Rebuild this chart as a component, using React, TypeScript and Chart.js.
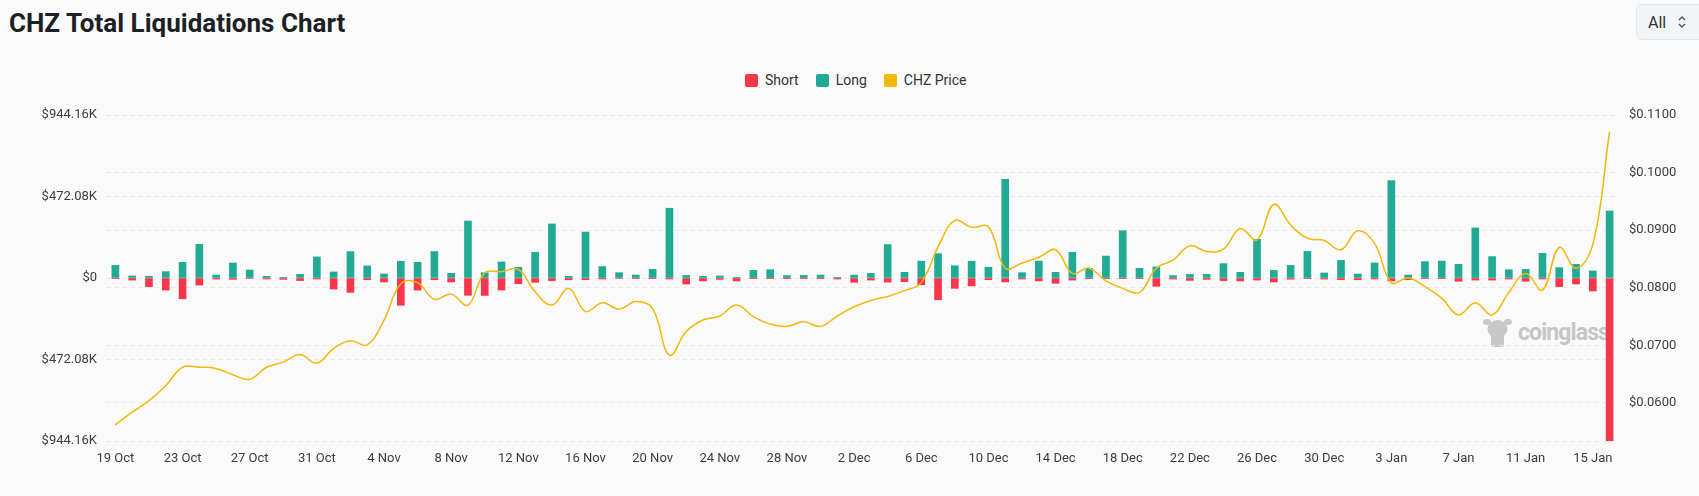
import React, { useEffect, useRef } from 'react';
import { Chart, registerables } from 'chart.js';
Chart.register(...registerables);

const dates = [
  '19 Oct','20 Oct','21 Oct','22 Oct','23 Oct','24 Oct','25 Oct','26 Oct','27 Oct','28 Oct','29 Oct','30 Oct','31 Oct',
  '1 Nov','2 Nov','3 Nov','4 Nov','5 Nov','6 Nov','7 Nov','8 Nov','9 Nov','10 Nov','11 Nov','12 Nov','13 Nov','14 Nov','15 Nov',
  '16 Nov','17 Nov','18 Nov','19 Nov','20 Nov','21 Nov','22 Nov','23 Nov','24 Nov','25 Nov','26 Nov','27 Nov','28 Nov','29 Nov','30 Nov',
  '1 Dec','2 Dec','3 Dec','4 Dec','5 Dec','6 Dec','7 Dec','8 Dec','9 Dec','10 Dec','11 Dec','12 Dec','13 Dec','14 Dec','15 Dec',
  '16 Dec','17 Dec','18 Dec','19 Dec','20 Dec','21 Dec','22 Dec','23 Dec','24 Dec','25 Dec','26 Dec','27 Dec','28 Dec','29 Dec','30 Dec','31 Dec',
  '1 Jan','2 Jan','3 Jan','4 Jan','5 Jan','6 Jan','7 Jan','8 Jan','9 Jan','10 Jan','11 Jan','12 Jan','13 Jan','14 Jan','15 Jan','16 Jan',
];

// Long liquidations, thousands of USD
const longLiqK = [
  73, 12, 10, 37, 91, 195, 17, 87, 46, 10, 4, 21, 122,
  35, 153, 70, 23, 97, 91, 153, 27, 330, 30, 93, 62, 149, 313, 10,
  266, 66, 31, 17, 50, 404, 15, 10, 12, 4, 44, 48, 14, 15, 17,
  4, 17, 27, 194, 33, 97, 141, 71, 97, 62, 572, 31, 98, 33, 149,
  56, 127, 274, 56, 64, 14, 21, 21, 83, 33, 224, 44, 73, 154, 29, 102,
  23, 87, 564, 17, 95, 98, 79, 290, 124, 48, 50, 143, 60, 79, 41, 388,
];

// Short liquidations, thousands of USD (drawn below zero)
const shortLiqK = [
  2, 12, 50, 70, 120, 41, 6, 8, 3, 6, 8, 15, 6,
  64, 83, 10, 23, 158, 70, 10, 23, 100, 101, 70, 33, 25, 15, 10,
  10, 6, 3, 4, 4, 6, 35, 17, 8, 17, 1, 1, 1, 1, 1,
  6, 25, 12, 24, 21, 39, 126, 60, 46, 10, 23, 6, 17, 31, 12,
  4, 4, 4, 4, 48, 6, 14, 8, 15, 17, 12, 23, 7, 2, 6, 10,
  10, 6, 17, 10, 2, 2, 19, 12, 12, 6, 19, 6, 50, 35, 75, 944.16,
];

// CHZ price, USD
const chzPrice = [
  0.0562, 0.0584, 0.0604, 0.0630, 0.0662, 0.0662, 0.0660, 0.0649, 0.0641, 0.0662, 0.0671, 0.0684, 0.0669,
  0.0695, 0.0708, 0.0701, 0.0744, 0.0807, 0.0809, 0.0780, 0.0789, 0.0770, 0.0826, 0.0828, 0.0832, 0.0793, 0.0770, 0.0799,
  0.0759, 0.0774, 0.0763, 0.0776, 0.0764, 0.0683, 0.0724, 0.0744, 0.0751, 0.0770, 0.0750, 0.0737, 0.0733, 0.0741, 0.0733,
  0.0751, 0.0767, 0.0778, 0.0785, 0.0795, 0.0809, 0.0871, 0.0917, 0.0905, 0.0906, 0.0834, 0.0843, 0.0853, 0.0866, 0.0825,
  0.0834, 0.0812, 0.0799, 0.0792, 0.0834, 0.0848, 0.0873, 0.0863, 0.0867, 0.0903, 0.0883, 0.0945, 0.0909, 0.0886, 0.0882, 0.0866,
  0.0899, 0.0877, 0.0809, 0.0817, 0.0802, 0.0782, 0.0753, 0.0774, 0.0753, 0.0792, 0.0825, 0.0796, 0.0870, 0.0834, 0.0875, 0.1071,
];

const leftTicks = [-944160, -472080, 0, 472080, 944160];
const rightTicks = [0.06, 0.07, 0.08, 0.09, 0.1, 0.11];

const RED = '#f6364a';
const GREEN = '#22ab94';
const YELLOW = '#f0b90b';
const TICK_COLOR = '#3d3d3d';
const GRID = '#e8e8e8';

export default function App() {
  const ref = useRef<HTMLCanvasElement>(null);

  useEffect(() => {
    const chart = new Chart(ref.current as HTMLCanvasElement, {
      type: 'bar',
      data: {
        labels: dates,
        datasets: [
          {
            type: 'line',
            label: 'CHZ Price',
            data: chzPrice,
            yAxisID: 'y1',
            borderColor: YELLOW,
            borderWidth: 1.5,
            pointRadius: 0,
            tension: 0.4,
            fill: false,
            order: 0,
          } as any,
          {
            type: 'bar',
            label: 'Short',
            data: shortLiqK.map((v) => -v * 1000),
            backgroundColor: RED,
            stack: 'liq',
            yAxisID: 'y',
            order: 1,
            barThickness: 7,
          },
          {
            type: 'bar',
            label: 'Long',
            data: longLiqK.map((v) => v * 1000),
            backgroundColor: GREEN,
            stack: 'liq',
            yAxisID: 'y',
            order: 1,
            barThickness: 7,
          },
        ],
      },
      options: {
        responsive: false,
        animation: false,
        devicePixelRatio: 1,
        layout: { padding: { top: 115, left: 0, right: 0, bottom: 0 } },
        plugins: {
          legend: { display: false },
          tooltip: { enabled: false },
        },
        scales: {
          x: {
            stacked: true,
            grid: { display: false, drawTicks: false },
            border: { display: false },
            ticks: {
              autoSkip: false,
              maxRotation: 0,
              minRotation: 0,
              padding: 10,
              color: TICK_COLOR,
              font: { family: 'Roboto', size: 13 },
              callback: (_v: any, i: number) => (i % 4 === 0 ? dates[i] : ''),
            },
            afterFit: (s: any) => {
              s.height = 55;
            },
          },
          y: {
            position: 'left',
            stacked: true,
            min: -944160,
            max: 944160,
            afterBuildTicks: (s: any) => {
              s.ticks = leftTicks.map((v) => ({ value: v }));
            },
            afterFit: (s: any) => {
              s.width = 107;
            },
            grid: { color: GRID, drawTicks: false, lineWidth: 1 },
            border: { display: false, dash: [4, 4] },
            ticks: {
              padding: 10,
              color: TICK_COLOR,
              font: { family: 'Roboto', size: 13 },
              callback: (v: any) => (v === 0 ? '$0' : '$' + (Math.abs(v) / 1000).toFixed(2) + 'K'),
            },
          },
          y1: {
            position: 'right',
            min: 0.0534,
            max: 0.11,
            afterBuildTicks: (s: any) => {
              s.ticks = rightTicks.map((v) => ({ value: v }));
            },
            afterFit: (s: any) => {
              s.width = 81;
            },
            grid: { color: GRID, drawTicks: false, lineWidth: 1 },
            border: { display: false, dash: [4, 4] },
            ticks: {
              padding: 11,
              color: TICK_COLOR,
              font: { family: 'Roboto', size: 13 },
              callback: (v: any) => '$' + Number(v).toFixed(4),
            },
          },
        },
      },
    });
    return () => chart.destroy();
  }, []);

  const legendItem = (color: string, text: string) => (
    <div style={{ display: 'flex', alignItems: 'center', marginRight: 17 }}>
      <span style={{ width: 13, height: 13, borderRadius: 2, background: color, display: 'inline-block', marginRight: 7 }} />
      <span style={{ fontSize: 14, color: '#333', lineHeight: '14px' }}>{text}</span>
    </div>
  );

  return (
    <div
      style={{
        position: 'fixed',
        left: 0,
        top: 0,
        width: 1699,
        height: 496,
        overflow: 'hidden',
        background: '#fafafa',
        fontFamily: 'Roboto, sans-serif',
      }}
    >
      <div
        style={{
          position: 'absolute',
          left: 9,
          top: 8,
          fontSize: 26,
          fontWeight: 700,
          color: '#1c1f24',
          lineHeight: '30px',
          whiteSpace: 'nowrap',
        }}
      >
        CHZ Total Liquidations Chart
      </div>

      <div
        style={{
          position: 'absolute',
          left: 1636,
          top: 4,
          width: 80,
          height: 36,
          boxSizing: 'border-box',
          border: '1px solid #e2e6ea',
          borderRadius: 6,
          background: '#f2f5f7',
          display: 'flex',
          alignItems: 'center',
          paddingLeft: 11,
          fontSize: 16,
          color: '#333',
        }}
      >
        <span>All</span>
        <svg width="10" height="16" viewBox="0 0 10 16" style={{ marginLeft: 11 }}>
          <path d="M2 6 L5 3 L8 6" stroke="#555" strokeWidth="1.4" fill="none" />
          <path d="M2 10 L5 13 L8 10" stroke="#555" strokeWidth="1.4" fill="none" />
        </svg>
      </div>

      <div
        style={{
          position: 'absolute',
          left: 745,
          top: 73,
          display: 'flex',
          alignItems: 'center',
          whiteSpace: 'nowrap',
        }}
      >
        {legendItem(RED, 'Short')}
        {legendItem(GREEN, 'Long')}
        {legendItem(YELLOW, 'CHZ Price')}
      </div>

      <div style={{ position: 'absolute', left: 1483, top: 317, display: 'flex', alignItems: 'center' }}>
        <svg width="29" height="31" viewBox="0 0 29 31">
          <ellipse cx="14.5" cy="12" rx="10" ry="9" fill="#c8c8c8" />
          <ellipse cx="4" cy="5" rx="4" ry="3" fill="#c8c8c8" />
          <ellipse cx="25" cy="5" rx="4" ry="3" fill="#c8c8c8" />
          <rect x="8" y="17" width="13" height="13" rx="3" fill="#c8c8c8" />
        </svg>
        <span style={{ marginLeft: 6, fontSize: 23, fontWeight: 700, color: '#c6c6c6', letterSpacing: -0.9, lineHeight: '28px' }}>coinglass</span>
      </div>

      <canvas ref={ref} width={1699} height={496} style={{ position: 'absolute', left: 0, top: 0 }} />
    </div>
  );
}
